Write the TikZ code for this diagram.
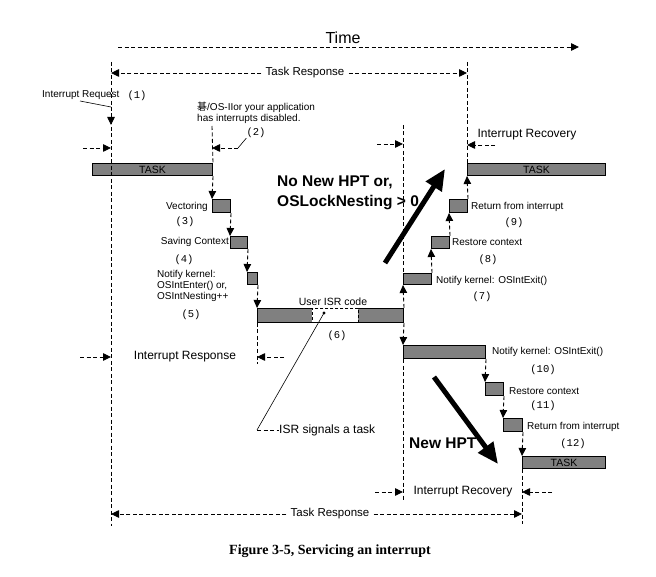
\documentclass[tikz,border=0pt]{standalone}
\usepackage{fontspec}
\setmainfont{Liberation Sans}
\newfontfamily\numfont{Liberation Mono}
\newfontfamily\capfont{Liberation Serif}
\newfontfamily\cjkfont{Noto Sans CJK SC}
\usetikzlibrary{arrows.meta}
\definecolor{segGray}{HTML}{808080}

\begin{document}
\begin{tikzpicture}[
  x=1pt,y=-1pt,
  guide/.style={draw,line width=.85pt,dash pattern=on 4pt off 2.5pt},
  flow/.style={guide,-{Triangle[length=8pt,width=7.5pt]}},
  leader/.style={draw,line width=.6pt},
  big/.style={draw,line width=5pt,-{Triangle[length=21pt,width=18pt]}},
  seg/.style={draw,line width=1pt,fill=segGray,inner sep=0pt,anchor=north west,font=\fontsize{10.5}{11}\selectfont},
  note/.style={inner sep=0pt,align=left,font=\fontsize{10}{11}\selectfont},
  num/.style={inner sep=0pt,font=\numfont\fontsize{10.5}{11}\selectfont},
  span/.style={inner sep=4pt,font=\fontsize{12}{13}\selectfont},
  hpt/.style={inner sep=0pt,align=left,font=\bfseries\fontsize{15.5}{20}\selectfont}
]
\useasboundingbox (0,0) rectangle (656,577);

% Zeitachse
\node[inner sep=0pt,font=\fontsize{16}{18}\selectfont] (time) at (343,38) {Time};
\coordinate (timeL) at (118,47);
\coordinate (timeR) at (579,47);
\draw[flow] (timeL) -- (timeR);

% Fuehrungslinien
\coordinate (vA top) at (111,62);  \coordinate (vA bot) at (111,526);
\coordinate (vB top) at (212,126);
\coordinate (vC bot) at (257,364);
\coordinate (vD top) at (403,125); \coordinate (vD bot) at (403,501);
\coordinate (vE top) at (467,62);
\coordinate (vF bot) at (522,524);

% Segmente
\node[seg,minimum width=120pt,minimum height=12pt] (task1) at (92,163) {TASK};
\node[seg,minimum width=18pt,minimum height=13pt] (vect) at (212,199) {};
\node[seg,minimum width=17pt,minimum height=12pt] (save) at (230,236) {};
\node[seg,minimum width=10pt,minimum height=12pt] (enter) at (247,272) {};
\node[seg,minimum width=146pt,minimum height=14pt] (isr) at (257,308) {};
\node[draw,line width=.8pt,dash pattern=on 3pt off 2pt,fill=white,inner sep=0pt,anchor=north west,minimum width=46pt,minimum height=14pt] (usercode) at (312,308) {};
\node[seg,minimum width=28pt,minimum height=11pt] (exit1) at (403,273) {};
\node[seg,minimum width=18pt,minimum height=12pt] (rest1) at (431,236) {};
\node[seg,minimum width=18pt,minimum height=13pt] (ret1) at (449,199) {};
\node[seg,minimum width=138pt,minimum height=12pt] (task2) at (467,163) {TASK};
\node[seg,minimum width=82pt,minimum height=13pt] (exit2) at (403,345) {};
\node[seg,minimum width=18pt,minimum height=13pt] (rest2) at (485,382) {};
\node[seg,minimum width=19pt,minimum height=13pt] (ret2) at (503,418) {};
\node[seg,minimum width=83pt,minimum height=12pt] (task3) at (522,456) {TASK};

\draw[guide] (vA top) -- (vA bot);
\draw[guide] (vB top) -- (task1.north east);
\draw[guide] (isr.south west) -- (vC bot);
\draw[guide] (vD top) -- (exit1.north west);
\draw[guide] (exit2.south west) -- (vD bot);
\draw[guide] (vE top) -- (task2.north west);
\draw[guide] (task3.south west) -- (vF bot);

% Ablauf
\draw[flow] (task1.south east) -- (vect.north west);
\draw[flow] (vect.south east) -- (save.north west);
\draw[flow] (save.south east) -- (enter.north west);
\draw[flow] (enter.south east) -- (isr.north west);
\draw[flow] (isr.north east) -- (exit1.south west);
\draw[flow] (exit1.north east) -- (rest1.south west);
\draw[flow] (rest1.north east) -- (ret1.south west);
\draw[flow] (ret1.north east) -- (task2.south west);
\draw[flow] (isr.south east) -- (exit2.north west);
\draw[flow] (exit2.south east) -- (rest2.north west);
\draw[flow] (rest2.south east) -- (ret2.north west);
\draw[flow] (ret2.south east) -- (task3.north west);

% Beschriftungen
\node[note,anchor=west] (irq) at (42,95) {Interrupt Request};
\node[num] (n1) at (137,96) {(1)};
\coordinate (irqFrom) at (80,101);
\coordinate (irqKnee) at (111,107);
\coordinate (irqTip) at (111,125);
\draw[leader] (irqFrom) -- (irqKnee);
\draw[flow] (irqKnee) -- (irqTip);

\node[note,anchor=west] (disabled) at (197,112.5) {{\cjkfont 碁}/OS-IIor your application\\has interrupts disabled.};
\node[num] (n2) at (256,133) {(2)};
\coordinate (latL) at (83,148);
\coordinate (latKnee) at (238,148);
\draw[flow] (latL) -- (latL -| vA top);
\draw[leader] (n2.south west) -- (latKnee);
\draw[flow] (latKnee) -- (latKnee -| vB top);

\node[note,anchor=east] (vectLbl) at (208,207) {Vectoring};
\node[num] (n3) at (185,222) {(3)};
\node[note,anchor=east] (saveLbl) at (229,242) {Saving Context};
\node[num] (n4) at (184,260) {(4)};
\node[note,anchor=west] (enterLbl) at (157,286) {Notify kernel:\\OSIntEnter() or,\\OSIntNesting++};
\node[num] (n5) at (191,315) {(5)};
\node[inner sep=0pt,font=\fontsize{10.5}{11}\selectfont] (isrLbl) at (333,302) {User ISR code};
\node[num] (n6) at (337,336) {(6)};

\node[note,anchor=west] (exit1Lbl) at (436,281) {Notify kernel: OSIntExit()};
\node[num] (n7) at (482,297) {(7)};
\node[note,anchor=west] (rest1Lbl) at (452,242) {Restore context};
\node[num] (n8) at (488,260) {(8)};
\node[note,anchor=west] (ret1Lbl) at (471,207) {Return from interrupt};
\node[num] (n9) at (514,223) {(9)};

\node[note,anchor=west] (exit2Lbl) at (492,352) {Notify kernel: OSIntExit()};
\node[num] (n10) at (543,370) {(10)};
\node[note,anchor=west] (rest2Lbl) at (509,391) {Restore context};
\node[num] (n11) at (543,406) {(11)};
\node[note,anchor=west] (ret2Lbl) at (527,427) {Return from interrupt};
\node[num] (n12) at (573,444) {(12)};

% ISR signalisiert
\coordinate (sig) at (324,313);
\coordinate (sigKnee) at (257,430);
\fill (sig) circle (1.6);
\node[span,anchor=west,inner sep=0pt] (sigLbl) at (279,430) {ISR signals a task};
\draw[leader] (sig) -- (sigKnee);
\draw[guide] (sigKnee) -- (sigLbl.west);

% Zeitspannen
\node[span,font=\fontsize{11.5}{12}\selectfont] (trTop) at (305,73) {Task Response};
\draw[flow] (trTop.west) -- (trTop.west -| vA top);
\draw[flow] (trTop.east) -- (trTop.east -| vE top);

\node[span] (irsp) at (185,357) {Interrupt Response};
\coordinate (irspL) at (80,357);
\coordinate (irspR) at (284,357);
\draw[flow] (irspL) -- (irspL -| vA top);
\draw[flow] (irspR) -- (irspR -| isr.west);

\node[span,inner sep=0pt] (ircTop) at (527,135) {Interrupt Recovery};
\coordinate (ircL) at (377,144);
\coordinate (ircR) at (495,145);
\draw[flow] (ircL) -- (ircL -| vD top);
\draw[flow] (ircR) -- (ircR -| vE top);

\node[span] (ircBot) at (463,492) {Interrupt Recovery};
\coordinate (ircBL) at (375,492);
\coordinate (ircBR) at (552,492);
\draw[flow] (ircBL) -- (ircBL -| vD top);
\draw[flow] (ircBR) -- (ircBR -| vF bot);

\node[span,font=\fontsize{11.5}{12}\selectfont] (trBot) at (330,514) {Task Response};
\draw[flow] (trBot.west) -- (trBot.west -| vA top);
\draw[flow] (trBot.east) -- (trBot.east -| vF bot);

% HPT-Pfeile
\node[hpt,anchor=west] (noHpt) at (277,193) {No New HPT or,\\OSLockNesting > 0};
\coordinate (upTail) at (385,263);
\coordinate (upTip) at (445,169);
\draw[big] (upTail) -- (upTip);
\node[hpt,anchor=west] (newHpt) at (409,443) {New HPT};
\coordinate (dnTail) at (434,377);
\coordinate (dnTip) at (498,464);
\draw[big] (dnTail) -- (dnTip);

\node[inner sep=0pt,font=\capfont\bfseries\fontsize{14}{16}\selectfont] (caption) at (330,551) {Figure 3-5, Servicing an interrupt};
\end{tikzpicture}
\end{document}
